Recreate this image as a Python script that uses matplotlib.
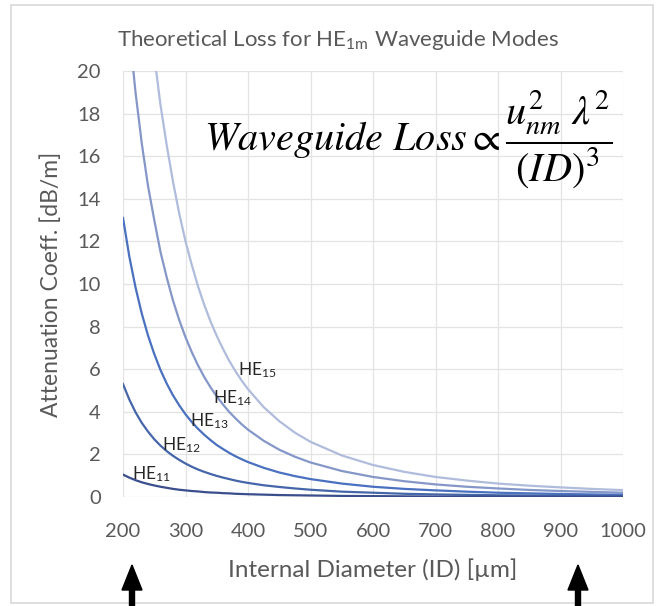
import numpy as np
import matplotlib
matplotlib.use("Agg")
import matplotlib.pyplot as plt
from matplotlib.patches import Rectangle, FancyArrow

plt.rcParams['font.family'] = ['Lato', 'DejaVu Sans']
plt.rcParams['mathtext.fontset'] = 'custom'
plt.rcParams['mathtext.rm'] = 'Lato'
plt.rcParams['mathtext.it'] = 'Lato:italic'

# internal diameter [um]
diam = [200, 210, 220, 230, 240, 250, 260, 270, 280, 290, 300, 310, 320, 330, 340,
        350, 360, 370, 380, 390, 400, 425, 450, 475, 500,
        550, 600, 650, 700, 750, 800, 850, 900, 950, 1000]

# attenuation [dB/m]
he11 = [1.05, 0.91, 0.79, 0.69, 0.61, 0.54, 0.48, 0.43, 0.38, 0.34, 0.31, 0.28, 0.26, 0.23, 0.21,
        0.20, 0.18, 0.17, 0.15, 0.14, 0.13, 0.11, 0.09, 0.08, 0.07,
        0.05, 0.04, 0.03, 0.02, 0.02, 0.02, 0.01, 0.01, 0.01, 0.01]
he12 = [5.30, 4.58, 3.98, 3.48, 3.07, 2.71, 2.41, 2.15, 1.93, 1.74, 1.57, 1.42, 1.29, 1.18, 1.08,
        0.99, 0.91, 0.84, 0.77, 0.71, 0.66, 0.55, 0.47, 0.40, 0.34,
        0.25, 0.20, 0.15, 0.12, 0.10, 0.08, 0.07, 0.06, 0.05, 0.04]
he13 = [13.1, 11.3, 9.84, 8.61, 7.58, 6.71, 5.96, 5.32, 4.77, 4.30, 3.88, 3.52, 3.20, 2.92, 2.67,
        2.44, 2.25, 2.07, 1.91, 1.77, 1.64, 1.37, 1.15, 0.98, 0.84,
        0.63, 0.48, 0.38, 0.31, 0.25, 0.20, 0.17, 0.14, 0.12, 0.10]
he14 = [25.3, 21.9, 19.0, 16.6, 14.6, 13.0, 11.5, 10.3, 9.22, 8.30, 7.50, 6.80, 6.18, 5.63, 5.15,
        4.72, 4.34, 3.99, 3.69, 3.41, 3.16, 2.64, 2.22, 1.89, 1.62,
        1.22, 0.94, 0.74, 0.59, 0.48, 0.40, 0.33, 0.28, 0.24, 0.20]
he15 = [40.5, 35.0, 30.4, 26.6, 23.4, 20.7, 18.4, 16.5, 14.8, 13.3, 12.0, 10.9, 9.89, 9.02, 8.24,
        7.56, 6.95, 6.39, 5.90, 5.46, 5.06, 4.22, 3.56, 3.02, 2.59,
        1.95, 1.50, 1.18, 0.94, 0.77, 0.63, 0.53, 0.45, 0.38, 0.32]

modes = ["HE$_{11}$", "HE$_{12}$", "HE$_{13}$", "HE$_{14}$", "HE$_{15}$"]
series = [he11, he12, he13, he14, he15]
colors = ["#3b4e8c", "#4566a9", "#4a70c0", "#8497c8", "#b0bcdc"]

# label anchor points (left edge of text, vertical centre)
label_x = [214, 262, 307, 344, 384]
label_y = [1.08, 2.44, 3.57, 4.65, 5.96]

fig = plt.figure(figsize=(6.6, 6.06), dpi=100)
ax = fig.add_axes([0.1864, 0.1799, 0.7576, 0.7029])

for s, c in zip(series[::-1], colors[::-1]):
    ax.plot(diam, s, color=c, lw=1.6)

for m, lx, ly in zip(modes, label_x, label_y):
    ax.text(lx, ly, m, fontsize=12.5, color="#262626", va='center', ha='left')

ax.text(657, 16.75,
        r"$Waveguide\ Loss \propto \dfrac{u_{nm}^{2}\ \lambda^{2}}{(ID)^{3}}$",
        math_fontfamily='stix', fontsize=29, ha='center', va='center', color='black')

ax.set_xlim(200, 1000)
ax.set_ylim(0, 20)
ax.set_xticks(np.arange(200, 1001, 100))
ax.set_yticks(np.arange(0, 21, 2))
ax.grid(True, color="#e3e3e3", lw=0.9)
ax.set_axisbelow(True)
for sp in ax.spines.values():
    sp.set_visible(False)
ax.tick_params(length=0, labelsize=14.5, colors="#595959")
ax.tick_params(axis='x', pad=19)
ax.tick_params(axis='y', pad=16)

ax.set_xlabel("Internal Diameter (ID) [µm]", fontsize=17.5, color="#595959", labelpad=13)
ax.set_ylabel("Attenuation Coeff. [dB/m]", fontsize=16.5, color="#595959", labelpad=11)

fig.text(0.512, 0.934, r"Theoretical Loss for HE$_{\mathrm{1m}}$ Waveguide Modes",
         fontsize=16, color="#595959", ha='center', va='center')

# outer chart frame
fig.add_artist(Rectangle((11/660, 1-603/606), 642/660, 598/606, transform=fig.transFigure,
                         fill=False, ec="#d9d9d9", lw=1.2))

# black arrows under the axis
for xa in [132/660, 578/660]:
    fig.add_artist(FancyArrow(xa, 0.0, 0, 1-565/606, width=5/660, head_width=20/660,
                              head_length=25/606, length_includes_head=True,
                              transform=fig.transFigure, color='black'))

fig.savefig("out.png", dpi=100)
